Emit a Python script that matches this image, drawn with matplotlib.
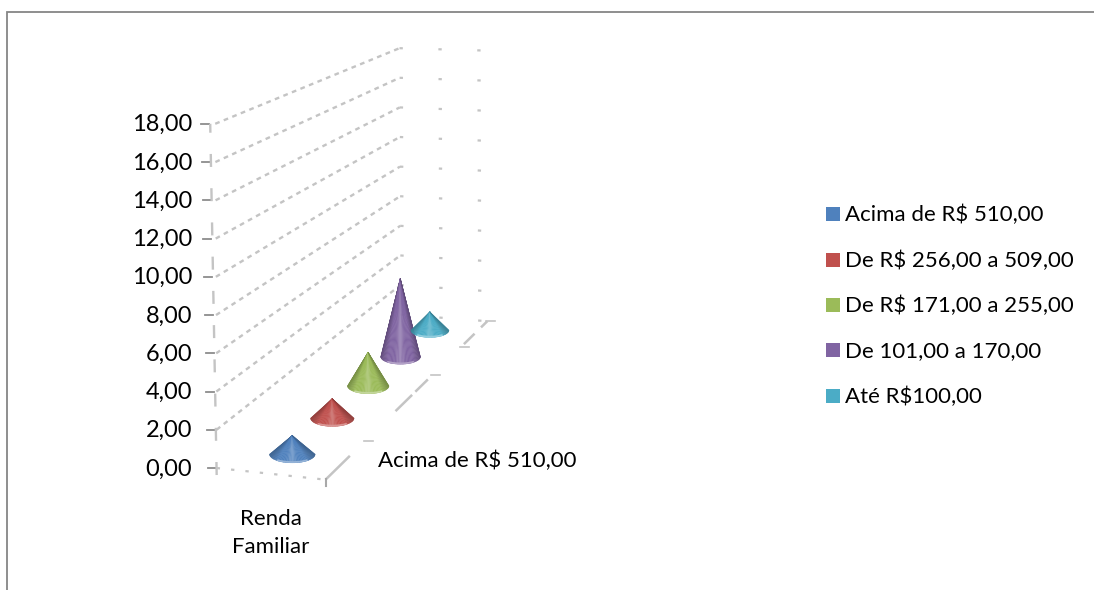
import numpy as np
import matplotlib
matplotlib.use("Agg")
from matplotlib import pyplot as plt
from matplotlib.colors import to_rgb
from matplotlib.patches import Rectangle

plt.rcParams['font.family'] = ['Lato', 'DejaVu Sans']

categories = ["Acima de R$ 510,00", "De R$ 256,00 a 509,00", "De R$ 171,00 a 255,00",
              "De 101,00 a 170,00", "Até R$100,00"]
values = [1.0, 1.1, 2.0, 4.9, 1.2]
colours = ["#4f81bd", "#c0504d", "#9bbb59", "#8064a2", "#4bacc6"]
tick_values = [0, 2, 4, 6, 8, 10, 12, 14, 16, 18]
tick_labels = ["0,00", "2,00", "4,00", "6,00", "8,00", "10,00", "12,00", "14,00", "16,00", "18,00"]
wall_front_y = [465, 428, 391, 354, 317, 279, 240, 201, 161, 121]
wall_back_y = [316, 286, 256, 226, 196, 167, 137, 108, 78, 46]
floor_ticks = [0.2, 0.6, 0.8, 1.0]
floor_dashes = [(0, 0.12), (0.37, 0.47), (0.49, 0.57), (0.82, 0.9), (0.95, 1.0)]
grid_colour = "#c4c4c4"
text_size = 16
tick_size = 17


def fit_camera():
    # 3x4 projective camera from known corners, (u, d, v) -> pixel
    pts = []
    for v, yf, yb in zip(tick_values, wall_front_y, wall_back_y):
        pts.append(((0, 0, v), (216, yf)))
        pts.append(((0, 1, v), (400, yb)))
    pts += [((1, 0, 0), (325, 482)), ((1, 1, 0), (490, 318)), ((1, 1, 18), (484, 52))]
    rows, rhs = [], []
    for (u, d, v), (x, y) in pts:
        rows.append([u, d, v, 1, 0, 0, 0, 0, -x*u, -x*d, -x*v])
        rhs.append(x)
        rows.append([0, 0, 0, 0, u, d, v, 1, -y*u, -y*d, -y*v])
        rhs.append(y)
    sol = np.linalg.lstsq(np.array(rows, float), np.array(rhs, float), rcond=None)[0]
    return np.append(sol, 1).reshape(3, 4)


cam = fit_camera()


def proj(u, d, v):
    p = cam @ np.array([u, d, v, 1.0])
    return p[0]/p[2], p[1]/p[2]


def line3d(ax, a, b, **kw):
    xa, ya = proj(*a)
    xb, yb = proj(*b)
    ax.plot([xa, xb], [ya, yb], color=kw.pop('color', grid_colour), solid_capstyle='butt', **kw)


def draw_cone(ax, d, value, colour):
    cx, cy = proj(0.5, d, 0)
    tx, ty = proj(0.5, d, value)
    half_w = (proj(0.715, d, 0)[0] - proj(0.285, d, 0)[0]) / 2
    half_h = 0.38 * half_w
    rgb = np.array(to_rgb(colour))
    n = 40
    angles = np.linspace(np.pi, 0, n + 1)
    for a0, a1 in zip(angles[:-1], angles[1:]):
        mid = np.cos((a0 + a1) / 2)
        # dark at the rim, bright stripe down the middle
        shade = 0.76 + 0.28 * min(1, (1 - abs(mid)) / 0.4)
        light = 0.2 * np.exp(-(mid / 0.2) ** 2)
        c = rgb * min(shade, 1) + (1 - rgb) * light
        xs = [tx, cx + half_w * np.cos(a0), cx + half_w * np.cos(a1)]
        ys = [ty, cy + half_h * np.sin(a0), cy + half_h * np.sin(a1)]
        ax.fill(xs, ys, color=np.clip(c, 0, 1), lw=0.3, zorder=5)
    # pale reflection along the front of the base
    t = np.linspace(np.pi * 0.72, np.pi * 0.28, 20)
    ax.plot(cx + half_w * np.cos(t), cy + (half_h - 0.8) * np.sin(t), color=rgb + (1 - rgb) * 0.4,
            lw=1.3, zorder=6, solid_capstyle='round')


fig = plt.figure(figsize=(10.94, 5.90), dpi=100)
ax = fig.add_axes([0, 0, 1, 1])
ax.set_xlim(0, 1094)
ax.set_ylim(590, 0)
ax.axis('off')

# chart frame, open at the right and bottom
ax.plot([7, 7, 1094], [590, 12, 12], color="#868686", lw=1.3, solid_joinstyle='miter')

# side wall and back wall gridlines
for v in tick_values:
    if v > 0:
        line3d(ax, (0, 0, v), (0, 1, v), lw=1.7, linestyle=(0, (2.0, 1.9)))
    line3d(ax, (0, 1, v), (1, 1, v), lw=1.6, linestyle=(0, (1.5, 16)))

# floor edges
line3d(ax, (0, 0, 0), (1, 0, 0), lw=1.6, linestyle=(0, (1.5, 5)))
for d0, d1 in floor_dashes:
    line3d(ax, (1, d0, 0), (1, d1, 0), lw=1.8)

# value axis leans slightly towards the wall at the top
for v, label in zip(tick_values, tick_labels):
    x, y = proj(0, 0, v)
    x = x - 5 * v / 18
    ax.plot([x - 9, x - 1], [y, y], color="#8c8c8c", lw=1.3)
    ax.text(192, y + 1, label, ha='right', va='center', size=tick_size, color="black")
xa, ya = proj(0, 0, 0)
xb, yb = proj(0, 0, 18)
ax.plot([xa, xb - 5], [ya + 7, yb], color=grid_colour, lw=1.7, linestyle=(0, (5.5, 9)))

# category ticks along the floor
for d in floor_ticks:
    x, y = proj(1, d, 0)
    ax.plot([x - 1, x + 8], [y, y], color=grid_colour, lw=1.2)
x, y = proj(1, 0, 0)
ax.plot([x, x], [y - 1, y + 6], color="#a8a8a8", lw=1.5)

for i, (value, colour) in enumerate(zip(values, colours)):
    draw_cone(ax, (i + 0.5) / 5, value, colour)

ax.text(378, 461, categories[0], ha='left', va='center', size=text_size)
ax.text(271, 533, "Renda\nFamiliar", ha='center', va='center', size=text_size, linespacing=1.5)

# legend
legend_y = [214, 260, 305, 350, 396]
for y, label, colour in zip(legend_y, categories, colours):
    ax.add_patch(Rectangle((826, y - 7), 14, 14, color=colour, lw=0))
    ax.text(845, y + 1, label, ha='left', va='center', size=text_size)

fig.savefig("out.png", dpi=100)
